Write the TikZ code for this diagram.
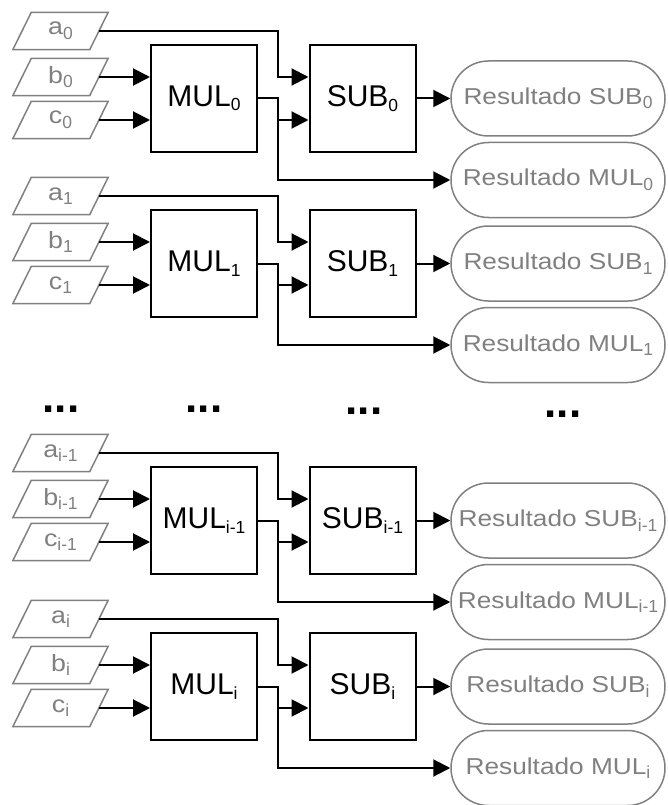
\documentclass[tikz,border=0pt]{standalone}
\usepackage{fontspec}
\setmainfont{Liberation Sans}
\newfontfamily\widefont[FakeStretch=1.14]{Liberation Sans}
\usetikzlibrary{arrows.meta}
\definecolor{tone}{HTML}{808080}
% lowered index digits
\newcommand\lowidx[1]{\raisebox{-4.5pt}{\normalfont\fontsize{17.5}{17.5}\selectfont #1}}
\tikzset{
  unit/.style={draw=black, line width=2pt, minimum width=106pt, minimum height=107pt,
    inner sep=0pt, font=\fontsize{30}{30}\selectfont},
  % input data: a slanted box drawn around a plain rectangular node
  inbox/.style={rectangle, minimum width=95pt, minimum height=37pt, inner sep=0pt,
    text=tone, font=\widefont\fontsize{23.5}{23.5}\selectfont,
    append after command={
      \pgfextra{\draw[tone, line width=1.5pt, line join=miter]
        ([xshift=18.5pt]\tikzlastnode.north west) -- (\tikzlastnode.north east)
        -- ([xshift=-18.5pt]\tikzlastnode.south east) -- (\tikzlastnode.south west)
        -- cycle;}}},
  outbox/.style={draw=tone, line width=1.5pt, rounded corners=37.5pt,
    minimum width=214pt, minimum height=75pt, inner sep=0pt, text=tone,
    font=\widefont\fontsize{23}{23}\selectfont},
  flow/.style={line width=2pt, -{Triangle[length=17pt,width=17pt]}},
  etc/.style={inner sep=0pt, font=\bfseries\fontsize{44}{44}\selectfont}
}
\begin{document}
\begin{tikzpicture}[x=1pt,y=-1pt]
\useasboundingbox (0,0) rectangle (667,805);
\foreach \k/\idx/\Y in {0/0/31,1/1/196,2/i-1/453,3/i/619}{
  % inputs
  \node[inbox] (a\k) at (60.5,\Y) {a\lowidx{\idx}};
  \node[inbox] (b\k) at (60.5,\Y+46) {b\lowidx{\idx}};
  \node[inbox] (c\k) at (60.5,\Y+89) {c\lowidx{\idx}};
  % processing units
  \node[unit] (mul\k) at (204,\Y+67.5) {MUL\lowidx{\idx}};
  \node[unit] (sub\k) at (362.5,\Y+67.5) {SUB\lowidx{\idx}};
  % results
  \node[outbox] (rs\k) at (558,\Y+67.5) {Resultado SUB\lowidx{\idx}};
  \node[outbox] (rm\k) at (558,\Y+149) {Resultado MUL\lowidx{\idx}};
  % routing column
  \coordinate (j\k) at (278,\Y);
  % connections (inputs leave from the middle of the slanted right side)
  \draw[flow] ([xshift=-9.5pt]b\k.east) -- (mul\k.west |- b\k.east);
  \draw[flow] ([xshift=-9.5pt]c\k.east) -- (mul\k.west |- c\k.east);
  \draw[flow] ([xshift=-9.5pt]a\k.east) -- (a\k.east -| j\k) |- (sub\k.west |- b\k.east);
  \draw[flow] (mul\k.east) -- (mul\k.east -| j\k) |- (sub\k.west |- c\k.east);
  \draw[flow] (mul\k.east -| j\k) |- (rm\k.west);
  \draw[flow] (sub\k.east) -- (rs\k.west);
}
\node[etc] (e1) at (61,409) {...};
\node[etc] (e2) at (204,409) {...};
\node[etc] (e3) at (364,411) {...};
\node[etc] (e4) at (563,414) {...};
\end{tikzpicture}
\end{document}
